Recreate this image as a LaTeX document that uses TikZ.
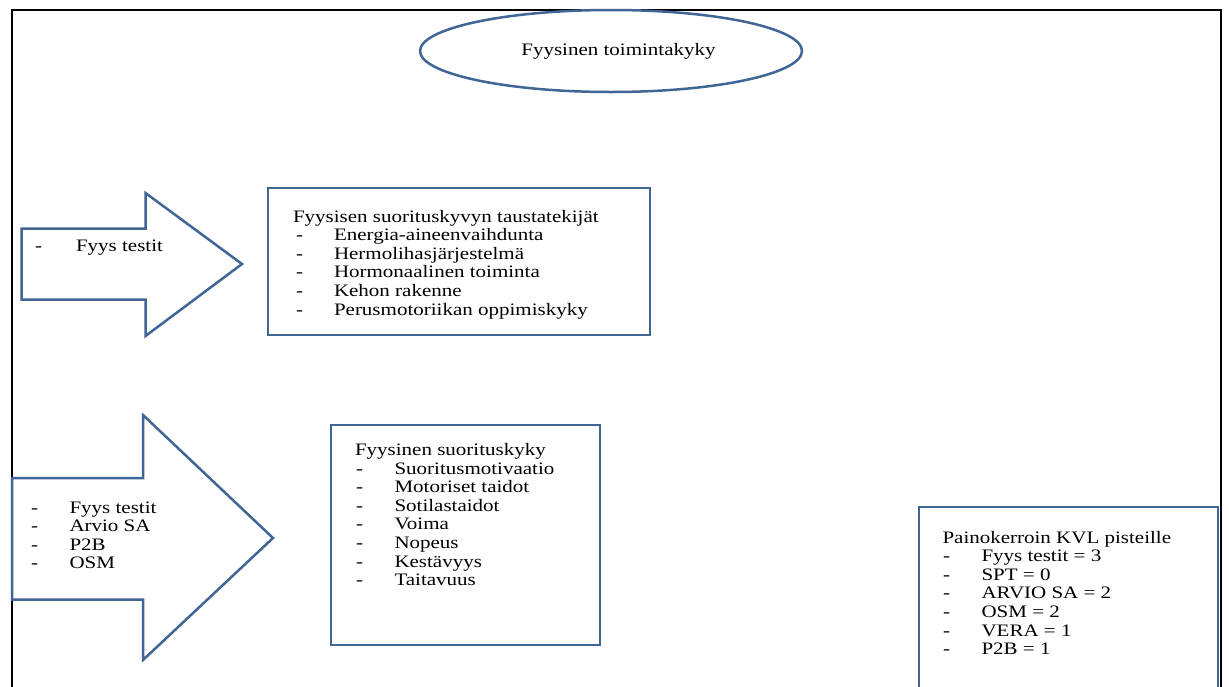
\documentclass[tikz,border=0pt]{standalone}
\usepackage{fontspec}
\setmainfont{Liberation Serif}[FakeStretch=1.2]
\usetikzlibrary{shapes.geometric}
\definecolor{bl}{RGB}{65,101,148}
\tikzset{
  txt/.style={inner sep=0pt, outer sep=0pt, font=\fontsize{17.5}{20}\selectfont, anchor=base west},
  boxx/.style={draw=bl, line width=2.5pt, inner sep=0pt},
  arr/.style={draw=bl, line width=2.5pt, line join=miter, fill=white},
}
\begin{document}
\begin{tikzpicture}[x=1pt,y=-1pt]
\useasboundingbox (0,0) rectangle (1229,686);
\clip (0,0) rectangle (1229,686);
\fill[white] (0,0) rectangle (1229,686);
% frame
\draw[line width=2pt] (12,700) -- (12,9.5) -- (1220.5,9.5) -- (1220.5,700);
% ellipse
\node[ellipse, draw=bl, line width=2.5pt, minimum width=382pt, minimum height=82pt, inner sep=0pt] (top) at (611,51) {};
\node[txt, anchor=base] (toptxt) at (618.5,55) {Fyysinen toimintakyky};
% arrow 1
\draw[arr] (21.5,228.5) -- (145.5,228.5) -- (145.5,193) -- (242,264) -- (145.5,336) -- (145.5,299.5) -- (21.5,299.5) -- cycle;
\node[txt] (a1d) at (35,251) {-};
\node[txt] (a1t) at (76,251) {Fyys testit};
% arrow 2
\draw[arr] (12,478) -- (143,478) -- (143,415) -- (273,538) -- (143,660) -- (143,599.5) -- (12,599.5) -- cycle;
\foreach [count=\i] \t in {Fyys testit, Arvio SA, P2B, OSM} {
  \node[txt] (a2d\i) at (31,{513+18.6*(\i-1)}) {-};
  \node[txt] (a2t\i) at (69.5,{513+18.6*(\i-1)}) {\t};
}
% box 1
\node[boxx, minimum width=382pt, minimum height=147pt] (b1) at (459,261.5) {};
\node[txt] (b1t) at (293,222) {Fyysisen suorituskyvyn taustatekijät};
\foreach [count=\i] \t in {Energia-aineenvaihdunta, Hermolihasjärjestelmä, Hormonaalinen toiminta, Kehon rakenne, Perusmotoriikan oppimiskyky} {
  \node[txt] (b1d\i) at (296,{222+18.6*\i}) {-};
  \node[txt] (b1i\i) at (334,{222+18.6*\i}) {\t};
}
% box 2
\node[boxx, minimum width=269pt, minimum height=220pt] (b2) at (465.5,535) {};
\node[txt] (b2t) at (355,455.5) {Fyysinen suorituskyky};
\foreach [count=\i] \t in {Suoritusmotivaatio, Motoriset taidot, Sotilastaidot, Voima, Nopeus, Kestävyys, Taitavuus} {
  \node[txt] (b2d\i) at (356,{455.5+18.6*\i}) {-};
  \node[txt] (b2i\i) at (394.5,{455.5+18.6*\i}) {\t};
}
% box 3
\node[boxx, minimum width=299pt, minimum height=220pt] (b3) at (1068.5,617) {};
\node[txt] (b3t) at (942.5,543) {Painokerroin KVL pisteille};
\foreach [count=\i] \t in {Fyys testit = 3, SPT = 0, ARVIO SA = 2, OSM = 2, VERA = 1, P2B = 1} {
  \node[txt] (b3d\i) at (943,{543+18.6*\i}) {-};
  \node[txt] (b3i\i) at (981.5,{543+18.6*\i}) {\t};
}
\end{tikzpicture}
\end{document}
